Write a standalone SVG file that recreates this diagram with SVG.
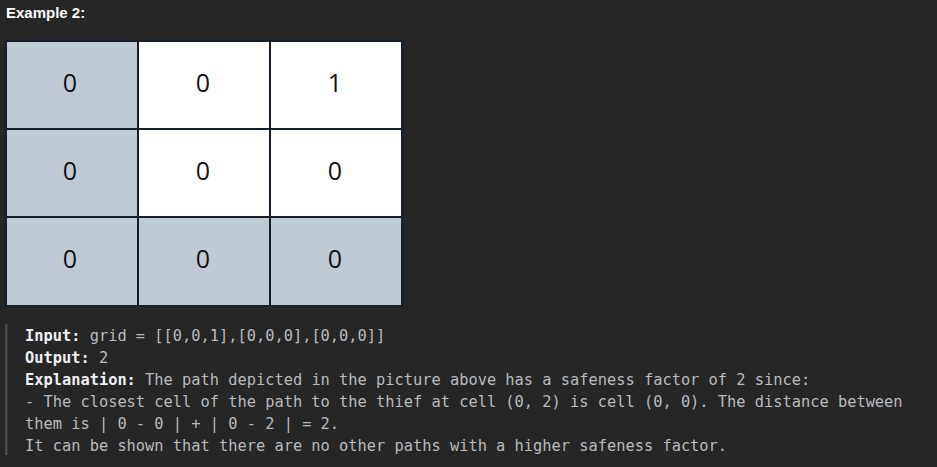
<svg xmlns="http://www.w3.org/2000/svg" width="937" height="467" viewBox="0 0 937 467">
<style>
.bg{fill:#262626}
.title{font-family:"Liberation Sans",Arial,sans-serif;font-weight:bold;font-size:15px;fill:#ffffff}
.blue{fill:#bfcad4}
.white{fill:#ffffff}
.grid{stroke:#14202c;stroke-width:2;fill:none}
.num{font-family:"Open Sans","Noto Sans",sans-serif;font-size:25px;fill:#111111;text-anchor:middle}
.mono{font-family:"DejaVu Sans Mono","Liberation Mono",monospace;font-size:15.35px;fill:#b9bbbf}
.b{font-weight:bold;fill:#eff1f6}
</style>
<rect class="bg" x="0" y="0" width="937" height="467"/>
<text class="title" x="6" y="18">Example 2:</text>
<g id="grid">
<g id="c00"><rect class="blue" x="6" y="41" width="132" height="88"/><text class="num" x="70" y="92">0</text></g>
<g id="c01"><rect class="white" x="138" y="41" width="132" height="88"/><text class="num" x="203" y="92">0</text></g>
<g id="c02"><rect class="white" x="270" y="41" width="132" height="88"/><text class="num" x="335" y="92">1</text></g>
<g id="c10"><rect class="blue" x="6" y="129" width="132" height="88"/><text class="num" x="70" y="180">0</text></g>
<g id="c11"><rect class="white" x="138" y="129" width="132" height="88"/><text class="num" x="203" y="180">0</text></g>
<g id="c12"><rect class="white" x="270" y="129" width="132" height="88"/><text class="num" x="335" y="180">0</text></g>
<g id="c20"><rect class="blue" x="6" y="217" width="132" height="89"/><text class="num" x="70" y="268">0</text></g>
<g id="c21"><rect class="blue" x="138" y="217" width="132" height="89"/><text class="num" x="203" y="268">0</text></g>
<g id="c22"><rect class="blue" x="270" y="217" width="132" height="89"/><text class="num" x="335" y="268">0</text></g>
<g id="lines">
<rect class="grid" x="6" y="41" width="396" height="265"/>
<line class="grid" x1="138" y1="41" x2="138" y2="306"/>
<line class="grid" x1="270" y1="41" x2="270" y2="306"/>
<line class="grid" x1="6" y1="129" x2="402" y2="129"/>
<line class="grid" x1="6" y1="217" x2="402" y2="217"/>
</g>
</g>
<rect x="5" y="324" width="2.5" height="131" fill="#4a4a4a"/>
<g id="text" xml:space="preserve">
<text class="mono" x="25" y="341"><tspan class="b">Input:</tspan> grid = [[0,0,1],[0,0,0],[0,0,0]]</text>
<text class="mono" x="25" y="363"><tspan class="b">Output:</tspan> 2</text>
<text class="mono" x="25" y="385"><tspan class="b">Explanation:</tspan> The path depicted in the picture above has a safeness factor of 2 since:</text>
<text class="mono" x="25" y="407">- The closest cell of the path to the thief at cell (0, 2) is cell (0, 0). The distance between</text>
<text class="mono" x="25" y="429">them is | 0 - 0 | + | 0 - 2 | = 2.</text>
<text class="mono" x="25" y="451">It can be shown that there are no other paths with a higher safeness factor.</text>
</g>
</svg>
